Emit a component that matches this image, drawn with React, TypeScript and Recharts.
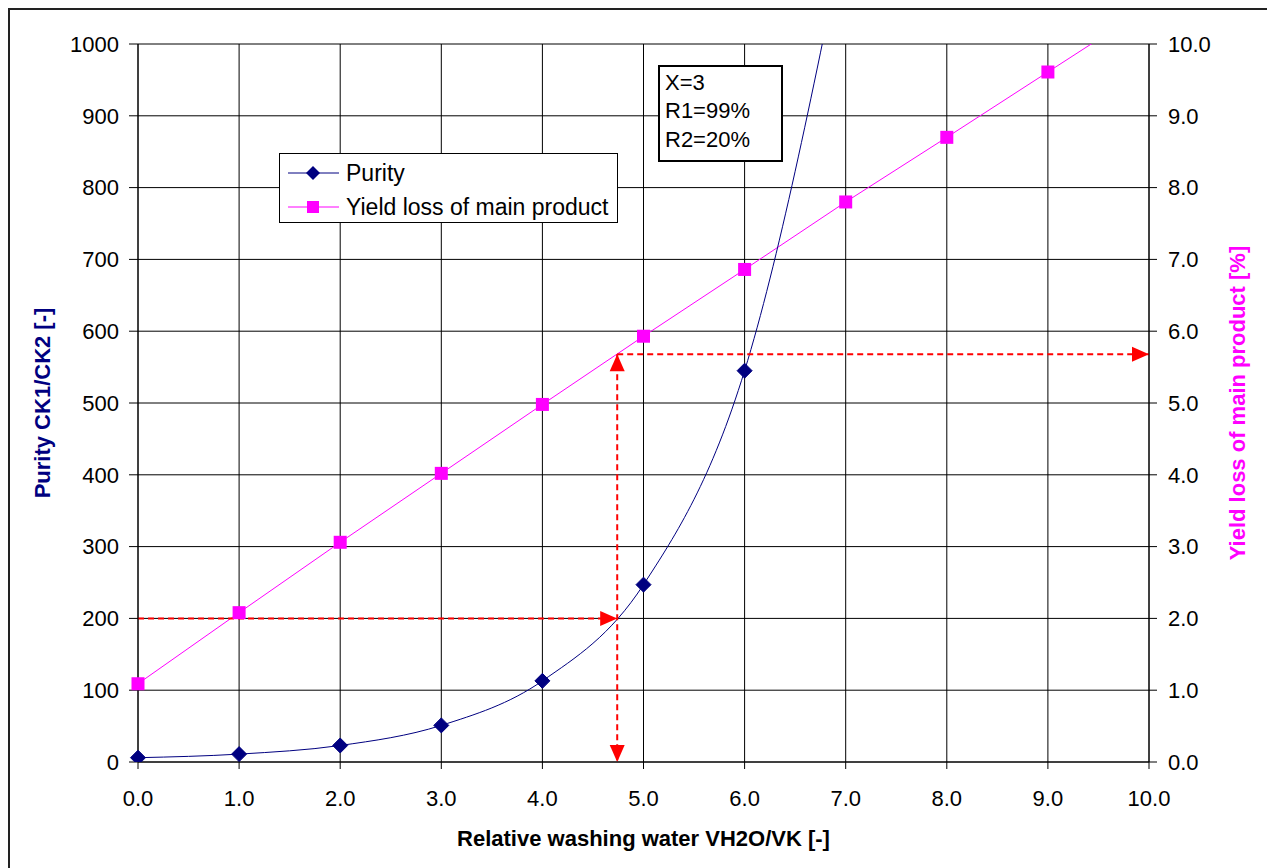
import React from "react";
import {
  LineChart,
  Line,
  XAxis,
  YAxis,
  CartesianGrid,
  ReferenceLine,
  Legend,
} from "recharts";

// relative washing water VH2O/VK [-]
const washWater = [0, 1, 2, 3, 4, 5, 6, 7, 8, 9, 10];
// purity CK1/CK2 [-] (the 7.0 point runs off the top of the plot)
const purity = [6, 11, 23, 51, 113, 247, 545, 1160, null, null, null];
// yield loss of main product [%]
const yieldLoss = [1.09, 2.08, 3.06, 4.02, 4.98, 5.93, 6.86, 7.8, 8.7, 9.61, 10.52];

const xTicks = [0, 1, 2, 3, 4, 5, 6, 7, 8, 9, 10];
const purityTicks = [0, 100, 200, 300, 400, 500, 600, 700, 800, 900, 1000];
const yieldTicks = [0, 1, 2, 3, 4, 5, 6, 7, 8, 9, 10];

const infoLines = ["X=3", "R1=99%", "R2=20%"];

// read-off construction: purity 200 -> water 4.74 -> yield loss 5.68 %
const readWater = 4.74;
const readPurity = 200;
const readYield = 5.68;

const NAVY = "#000080";
const MAGENTA = "#FF00FF";
const RED = "#FF0000";
const FONT = "'Liberation Sans', Arial, Helvetica, sans-serif";

const chartData = washWater.map((x, i) => ({
  x,
  purity: purity[i],
  yieldLoss: yieldLoss[i],
}));

const diamond = (cx: number, cy: number, r: number) =>
  `M${cx},${cy - r}L${cx + r},${cy}L${cx},${cy + r}L${cx - r},${cy}Z`;

const PurityDot = (props: any) => {
  const { cx, cy, index } = props;
  if (cx == null || cy == null) return <g key={index} />;
  return <path key={index} d={diamond(cx, cy, 7.5)} fill={NAVY} stroke={NAVY} />;
};

const YieldDot = (props: any) => {
  const { cx, cy, index } = props;
  if (cx == null || cy == null) return <g key={index} />;
  return <rect key={index} x={cx - 6.5} y={cy - 6.5} width={13} height={13} fill={MAGENTA} />;
};

const arrowHead = (fx: number, fy: number, tx: number, ty: number) => {
  const dx = tx - fx;
  const dy = ty - fy;
  const len = Math.hypot(dx, dy) || 1;
  const ux = dx / len;
  const uy = dy / len;
  const bx = tx - ux * 17;
  const by = ty - uy * 17;
  const nx = -uy * 7.5;
  const ny = ux * 7.5;
  return (
    <polygon
      points={`${tx},${ty} ${bx + nx},${by + ny} ${bx - nx},${by - ny}`}
      fill={RED}
    />
  );
};

const dashedArrow = (start: boolean, end: boolean) => (p: any) => {
  const { x1, y1, x2, y2 } = p;
  return (
    <g>
      <line
        x1={x1}
        y1={y1}
        x2={x2}
        y2={y2}
        stroke={RED}
        strokeWidth={2}
        strokeDasharray="6 4"
      />
      {start && arrowHead(x2, y2, x1, y1)}
      {end && arrowHead(x1, y1, x2, y2)}
    </g>
  );
};

const LegendBox = () => (
  <div
    style={{
      width: 339,
      height: 70,
      boxSizing: "border-box",
      border: "1px solid #000",
      background: "#fff",
      paddingTop: 2,
      fontFamily: FONT,
      fontSize: 23,
      color: "#000",
    }}
  >
    <div style={{ display: "flex", alignItems: "center", height: 34, paddingLeft: 8 }}>
      <svg width={51} height={20} style={{ marginRight: 7 }}>
        <line x1={0} y1={10} x2={51} y2={10} stroke={NAVY} strokeWidth={1} />
        <path d={diamond(25, 10, 7)} fill={NAVY} />
      </svg>
      <span>Purity</span>
    </div>
    <div style={{ display: "flex", alignItems: "center", height: 34, paddingLeft: 8 }}>
      <svg width={51} height={20} style={{ marginRight: 7 }}>
        <line x1={0} y1={10} x2={51} y2={10} stroke={MAGENTA} strokeWidth={1} />
        <rect x={19} y={4} width={12} height={12} fill={MAGENTA} />
      </svg>
      <span>Yield loss of main product</span>
    </div>
  </div>
);

const leftTitle = (p: any) => {
  const vb = p.viewBox || { x: 20, y: 44, width: 118, height: 718 };
  const x = vb.x + 22;
  const y = vb.y + vb.height / 2;
  return (
    <text
      x={x}
      y={y}
      transform={`rotate(-90, ${x}, ${y})`}
      textAnchor="middle"
      dy="0.36em"
      fill={NAVY}
      fontSize={22}
      fontWeight="bold"
    >
      Purity CK1/CK2 [-]
    </text>
  );
};

const rightTitle = (p: any) => {
  const vb = p.viewBox || { x: 1149, y: 44, width: 100, height: 718 };
  const x = vb.x + 88;
  const y = vb.y + vb.height / 2;
  return (
    <text
      x={x}
      y={y}
      transform={`rotate(-90, ${x}, ${y})`}
      textAnchor="middle"
      dy="0.36em"
      fill={MAGENTA}
      fontSize={22}
      fontWeight="bold"
    >
      Yield loss of main product [%]
    </text>
  );
};

const bottomTitle = (p: any) => {
  const vb = p.viewBox || { x: 138, y: 762, width: 1011, height: 90 };
  return (
    <text
      x={vb.x + vb.width / 2}
      y={vb.y + 84}
      textAnchor="middle"
      fill="#000"
      fontSize={22}
      fontWeight="bold"
    >
      Relative washing water VH2O/VK [-]
    </text>
  );
};

export default function App() {
  return (
    <div
      style={{
        position: "fixed",
        left: 0,
        top: 0,
        width: 1267,
        height: 868,
        overflow: "hidden",
        background: "#fff",
        fontFamily: FONT,
      }}
    >
      <div
        style={{
          position: "absolute",
          left: 8,
          top: 8,
          width: 1400,
          height: 1000,
          borderLeft: "2px solid #222",
          borderTop: "2px solid #222",
        }}
      />
      <div style={{ position: "absolute", left: 0, top: 0 }}>
        <LineChart
          width={1267}
          height={868}
          data={chartData}
          margin={{ top: 44, right: 18, bottom: 16, left: 20 }}
        >
          <CartesianGrid yAxisId="left" stroke="#000" strokeWidth={1} />
          <XAxis
            dataKey="x"
            type="number"
            domain={[0, 10]}
            ticks={xTicks}
            interval={0}
            tickFormatter={(v) => v.toFixed(1)}
            height={90}
            tickSize={7}
            tickMargin={21}
            axisLine={{ stroke: "#000" }}
            tickLine={{ stroke: "#000" }}
            tick={{ fill: "#000", fontSize: 22 }}
            label={{ content: bottomTitle }}
          />
          <YAxis
            yAxisId="left"
            domain={[0, 1000]}
            ticks={purityTicks}
            interval={0}
            allowDataOverflow
            width={118}
            tickSize={9}
            tickMargin={10}
            axisLine={{ stroke: "#000" }}
            tickLine={{ stroke: "#000" }}
            tick={{ fill: "#000", fontSize: 22 }}
            label={{ content: leftTitle }}
          />
          <YAxis
            yAxisId="right"
            orientation="right"
            domain={[0, 10]}
            ticks={yieldTicks}
            interval={0}
            allowDataOverflow
            tickFormatter={(v) => v.toFixed(1)}
            width={100}
            tickSize={8}
            tickMargin={11}
            axisLine={{ stroke: "#000" }}
            tickLine={{ stroke: "#000" }}
            tick={{ fill: "#000", fontSize: 22 }}
            label={{ content: rightTitle }}
          />
          <Line
            yAxisId="right"
            dataKey="yieldLoss"
            type="linear"
            stroke={MAGENTA}
            strokeWidth={1}
            dot={YieldDot}
            activeDot={false}
            isAnimationActive={false}
          />
          <Line
            yAxisId="left"
            dataKey="purity"
            type="monotone"
            stroke={NAVY}
            strokeWidth={1}
            dot={PurityDot}
            activeDot={false}
            isAnimationActive={false}
          />
          <ReferenceLine
            yAxisId="left"
            ifOverflow="visible"
            segment={[
              { x: 0, y: readPurity },
              { x: readWater, y: readPurity },
            ]}
            shape={dashedArrow(false, true)}
          />
          <ReferenceLine
            yAxisId="right"
            ifOverflow="visible"
            segment={[
              { x: readWater, y: readYield },
              { x: readWater, y: 0 },
            ]}
            shape={dashedArrow(true, true)}
          />
          <ReferenceLine
            yAxisId="right"
            ifOverflow="visible"
            segment={[
              { x: readWater, y: readYield },
              { x: 10, y: readYield },
            ]}
            shape={dashedArrow(false, true)}
          />
          <Legend
            layout="vertical"
            verticalAlign="middle"
            align="center"
            wrapperStyle={{ left: 279, top: 153, width: 339, height: 70 }}
            content={() => <LegendBox />}
          />
        </LineChart>
      </div>
      <div
        style={{
          position: "absolute",
          left: 658,
          top: 65,
          width: 125,
          height: 97,
          boxSizing: "border-box",
          border: "2px solid #000",
          background: "#fff",
          padding: "1.5px 0 0 5px",
          fontSize: 22,
          lineHeight: "28.5px",
          color: "#000",
        }}
      >
        {infoLines.map((t) => (
          <div key={t}>{t}</div>
        ))}
      </div>
    </div>
  );
}
